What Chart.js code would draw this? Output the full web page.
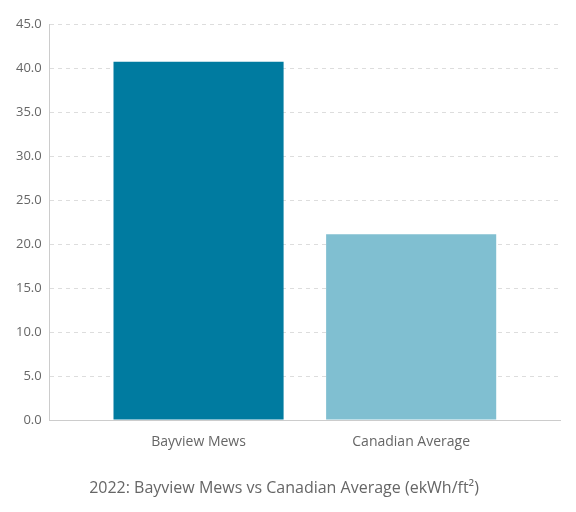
<!DOCTYPE html>
<html><head><meta charset="utf-8">
<script src="https://cdn.jsdelivr.net/npm/chart.js@4"></script>
<style>html,body{margin:0;padding:0;background:#fff}#w{width:576px;height:512px}</style>
</head><body><div id="w"><canvas id="c"></canvas></div>
<script>
const categories = ["Bayview Mews", "Canadian Average"];
const values = [40.7, 21.1];
const barColors = ["#007ba0", "#80bfd1"];
const titleText = "2022: Bayview Mews vs Canadian Average (ekWh/ft²)";
Chart.defaults.font.family = "'Open Sans', Lato, sans-serif";
Chart.defaults.color = "#666";
new Chart(document.getElementById('c'), {
  type: 'bar',
  data: { datasets: [{ data: values.map((v, i) => ({ x: i, y: v })), backgroundColor: barColors, barPercentage: 0.8, categoryPercentage: 1 }] },
  options: {
    responsive: true, maintainAspectRatio: false, animation: false,
    layout: { padding: { left: 8, right: 16, top: 24, bottom: 8 } },
    plugins: { legend: { display: false }, tooltip: { enabled: false },
      title: { display: true, position: 'bottom', text: titleText, font: { size: 16, weight: 'normal' }, color: '#666', padding: { top: 22, bottom: 6 } } },
    scales: {
      x: { type: 'linear', min: -0.7, max: 1.7, offset: false,
        afterBuildTicks: s => { s.ticks = categories.map((_, i) => ({ value: i })); },
        grid: { display: false }, border: { color: '#ccc' },
        ticks: { font: { size: 14 }, color: '#666', padding: 6, callback: v => categories[v] } },
      y: { min: 0, max: 45, grid: { color: '#ddd', tickLength: 0 }, border: { color: '#ccc', dash: [4,4] },
        ticks: { stepSize: 5, font: { size: 13 }, color: '#666', padding: 8, callback: v => v.toFixed(1) } }
    }
  }
});
</script></body></html>
